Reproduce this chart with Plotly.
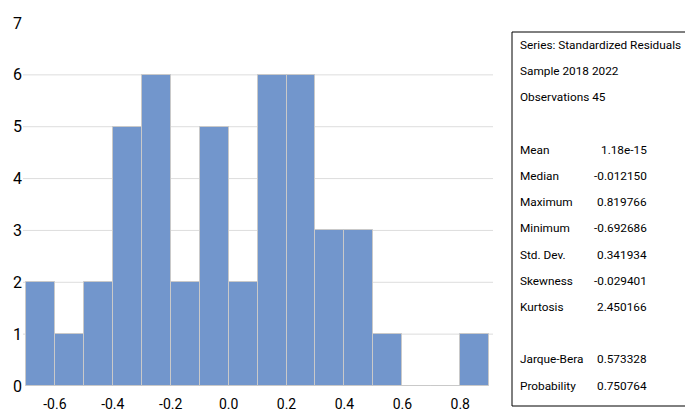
import plotly.graph_objects as go

# Histogram of standardized residuals: bins of width 0.1
bin_starts = [-0.7, -0.6, -0.5, -0.4, -0.3, -0.2, -0.1, 0.0,
              0.1, 0.2, 0.3, 0.4, 0.5, 0.6, 0.7, 0.8]
counts = [2, 1, 2, 5, 6, 2, 5, 2, 6, 6, 3, 3, 1, 0, 0, 1]
bin_width = 0.1

x_ticks = [-0.6, -0.4, -0.2, 0.0, 0.2, 0.4, 0.6, 0.8]
x_tick_text = ["-0.6", "-0.4", "-0.2", "0.0", "0.2", "0.4", "0.6", "0.8"]
y_ticks = [0, 1, 2, 3, 4, 5, 6, 7]

# Descriptive statistics panel
header_lines = ["Series: Standardized Residuals", "Sample 2018 2022", "Observations 45"]
stat_names = ["Mean", "Median", "Maximum", "Minimum", "Std. Dev.", "Skewness", "Kurtosis"]
stat_values = ["1.18e-15", "-0.012150", "0.819766", "-0.692686", "0.341934", "-0.029401", "2.450166"]
test_names = ["Jarque-Bera", "Probability"]
test_values = ["0.573328", "0.750764"]

W, H = 685, 415
ML, MR, MT, MB = 23, 192, 23, 29
PW, PH = W - ML - MR, H - MT - MB

FONT = "Roboto, Lato, sans-serif"


def px(xp):
    return (xp - ML) / PW


def py(yp):
    return (H - MB - yp) / PH


centers = [s + bin_width / 2 for s in bin_starts]

fig = go.Figure()
fig.add_trace(go.Bar(
    x=centers, y=counts, width=bin_width,
    marker=dict(color="#7296CC", line=dict(color="#C9C9C9", width=1)),
    hoverinfo="x+y",
))

shapes = []
# horizontal gridlines (interior values only)
for v in y_ticks[1:-1]:
    shapes.append(dict(type="line", xref="paper", yref="y", x0=0, x1=1, y0=v, y1=v,
                       line=dict(color="#DDDDDD", width=1), layer="below"))
# statistics box: open on the right, it runs off the page
box_left, box_top, box_bottom, box_right = px(512), py(32), py(406), px(700)
box_line = dict(color="#000000", width=1)
for x0, y0_, x1, y1_ in [(box_left, box_top, box_right, box_top),
                         (box_left, box_bottom, box_right, box_bottom),
                         (box_left, box_top, box_left, box_bottom)]:
    shapes.append(dict(type="line", xref="paper", yref="paper",
                       x0=x0, y0=y0_, x1=x1, y1=y1_, line=box_line))

annotations = []
line_step = 26.2
y0 = 45
rows = [(t, None) for t in header_lines] + [("", None)] + \
       list(zip(stat_names, stat_values)) + [("", None)] + list(zip(test_names, test_values))
for i, (label, value) in enumerate(rows):
    yy = py(y0 + i * line_step)
    if label:
        annotations.append(dict(xref="paper", yref="paper", x=px(518), y=yy, text=label,
                                showarrow=False, xanchor="left", yanchor="middle",
                                font=dict(family=FONT, size=11.8, color="#000000")))
    if value:
        annotations.append(dict(xref="paper", yref="paper", x=px(649), y=yy, text=value,
                                showarrow=False, xanchor="right", yanchor="middle",
                                font=dict(family=FONT, size=11.8, color="#000000")))

fig.update_layout(
    width=W, height=H,
    margin=dict(l=ML, r=MR, t=MT, b=MB, pad=0, autoexpand=False),
    plot_bgcolor="#FFFFFF", paper_bgcolor="#FFFFFF",
    bargap=0, showlegend=False,
    shapes=shapes, annotations=annotations,
    xaxis=dict(range=[-0.71, 0.913], tickvals=x_ticks, ticktext=x_tick_text,
               showgrid=False, zeroline=False, showline=False, ticks="",
               ticklabelstandoff=8, automargin=False,
               tickfont=dict(family=FONT, size=14, color="#000000")),
    yaxis=dict(range=[0, 7], tickvals=y_ticks, showgrid=False, zeroline=False,
               showline=False, ticks="", automargin=False,
               tickfont=dict(family=FONT, size=16, color="#000000")),
)

fig.write_html("out.html")
